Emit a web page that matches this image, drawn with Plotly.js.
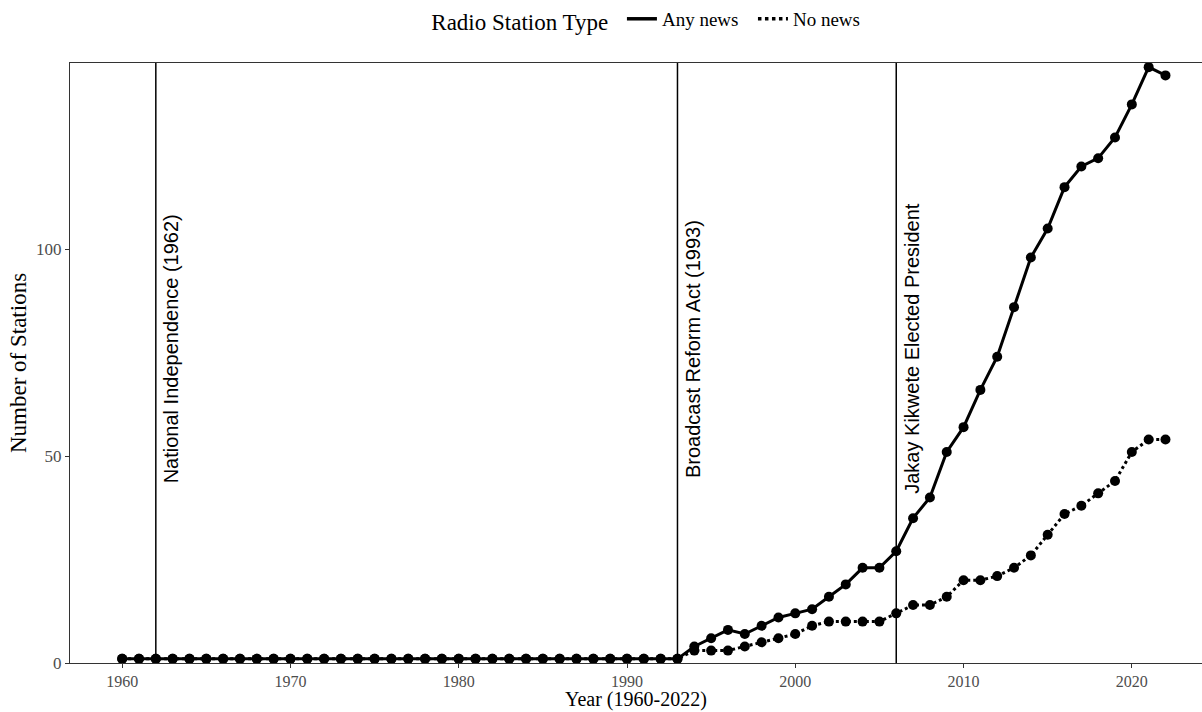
<!DOCTYPE html>
<html>
<head>
<meta charset="utf-8">
<script src="https://cdn.plot.ly/plotly-3.0.1.min.js"></script>
<style>html,body{margin:0;padding:0;background:#fff;}#chart{width:1202px;height:712px;}</style>
</head>
<body>
<div id="chart"></div>
<script>
const years = [];
for (let y = 1960; y <= 2022; y++) years.push(y);

// 1960-1993 all 1, then rising
const anyNews = [1,1,1,1,1,1,1,1,1,1, 1,1,1,1,1,1,1,1,1,1, 1,1,1,1,1,1,1,1,1,1, 1,1,1,1,
  4,6,8,7,9,11,12,13,16,19,23,23,27,35,40,51,57,66,74,86,98,105,115,120,122,127,135,144,142];
const noNews = [1,1,1,1,1,1,1,1,1,1, 1,1,1,1,1,1,1,1,1,1, 1,1,1,1,1,1,1,1,1,1, 1,1,1,1,
  3,3,3,4,5,6,7,9,10,10,10,10,12,14,14,16,20,20,21,23,26,31,36,38,41,44,51,54,54];

const eventYears = [1962, 1993, 2006];
const eventLabels = ["National Independence (1962)", "Broadcast Reform Act (1993)", "Jakay Kikwete Elected President"];
const labelY = 76;
const xTitle = "Year (1960-2022)";

const serif = "Liberation Serif, Times New Roman, serif";
const sans = "Liberation Sans, Arial, sans-serif";

const traces = [
  {x: years, y: noNews, mode: 'lines+markers', name: 'No news', showlegend: false,
   line: {color: '#000', width: 3, dash: 'dot'}, marker: {color: '#000', size: 10}},
  {x: years, y: anyNews, mode: 'lines+markers', name: 'Any news', showlegend: false,
   line: {color: '#000', width: 3}, marker: {color: '#000', size: 10}},
  {x: [null], y: [null], mode: 'lines', name: 'Any news\u00a0\u00a0', line: {color: '#000', width: 3.5}},
  {x: [null], y: [null], mode: 'lines', name: 'No news', line: {color: '#000', width: 3.5, dash: 'dot'}}
];

const shapes = eventYears.map(yr => ({
  type: 'line', xref: 'x', yref: 'paper', x0: yr, x1: yr, y0: 0, y1: 1,
  line: {color: '#000', width: 1.5}, layer: 'below'
}));

const annotations = eventYears.map((yr, i) => ({
  x: yr, y: labelY, xref: 'x', yref: 'y', text: eventLabels[i], textangle: -90,
  showarrow: false, xanchor: 'center', yanchor: 'middle', xshift: 15,
  font: {family: sans, size: 20, color: '#000'}
}));
annotations.push({
  x: 0.5, y: 0, xref: 'paper', yref: 'paper', text: xTitle, showarrow: false,
  xanchor: 'center', yanchor: 'bottom', yshift: -49, borderpad: 0,
  font: {family: serif, size: 20, color: '#000'}
});

const layout = {
  width: 1202, height: 712,
  margin: {l: 70, r: 0, t: 63, b: 49},
  paper_bgcolor: '#fff', plot_bgcolor: '#fff',
  font: {family: serif, color: '#000'},
  showlegend: true,
  legend: {orientation: 'h', x: 0.51, xanchor: 'center', y: 0.972, yref: 'container', yanchor: 'middle',
    title: {text: 'Radio Station Type ', side: 'left', font: {family: serif, size: 23, color: '#000'}},
    font: {family: serif, size: 19, color: '#000'}, itemwidth: 30},
  xaxis: {range: [1956.9, 2024.17], tickvals: [1960, 1970, 1980, 1990, 2000, 2010, 2020],
    showgrid: false, zeroline: false, showline: true, mirror: true, linecolor: '#333', linewidth: 1,
    ticks: 'outside', ticklen: 4, tickcolor: '#333', tickfont: {family: serif, size: 16, color: '#4d4d4d'}},
  yaxis: {range: [0, 145], tickvals: [0, 50, 100],
    showgrid: false, zeroline: false, showline: true, linecolor: '#333', linewidth: 1,
    ticks: 'outside', ticklen: 4, tickcolor: '#333', tickfont: {family: serif, size: 17, color: '#4d4d4d'},
    title: {text: 'Number of Stations', font: {family: serif, size: 23, color: '#000'}, standoff: 3}},
  shapes: shapes,
  annotations: annotations
};

Plotly.newPlot('chart', traces, layout, {displayModeBar: false, staticPlot: true});
</script>
</body>
</html>
